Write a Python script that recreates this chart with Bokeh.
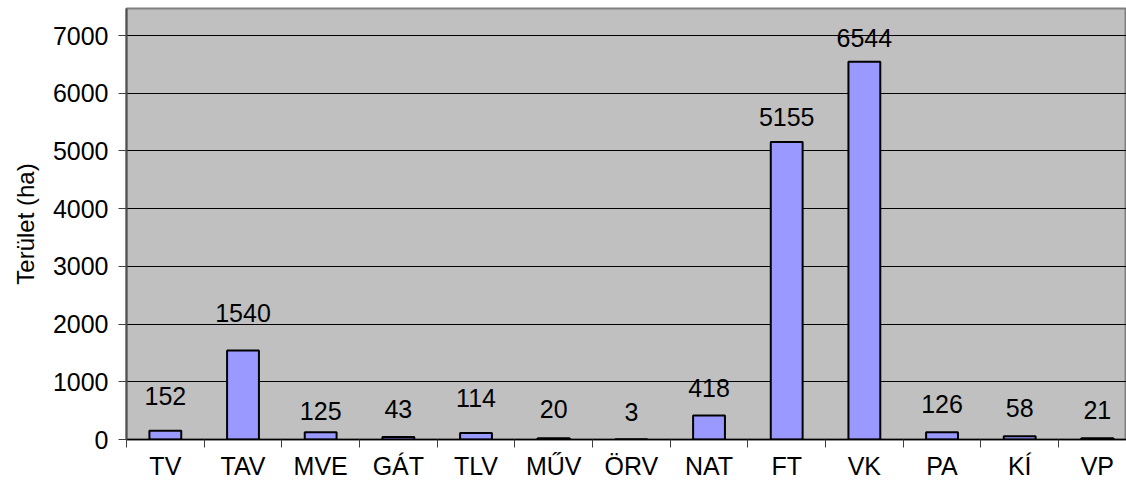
from bokeh.plotting import figure
from bokeh.models import Range1d, FixedTicker, ColumnDataSource
from bokeh.embed import file_html
from bokeh.resources import INLINE
from bokeh.core.properties import value

categories = ["TV", "TAV", "MVE", "GÁT", "TLV", "MŰV", "ÖRV", "NAT", "FT", "VK", "PA", "KÍ", "VP"]
areas = [152, 1540, 125, 43, 114, 20, 3, 418, 5155, 6544, 126, 58, 21]
y_ticks = [0, 1000, 2000, 3000, 4000, 5000, 6000, 7000]
y_title = "Terület (ha)"

# label pixel offsets above the bar top (layout only)
label_dy = [-35, -38, -21, -28, -35, -29, -27, -27, -25, -24, -28, -28, -28]

FONT = "Liberation Sans"

xs = [i + 0.5 for i in range(len(categories))]
src = ColumnDataSource(dict(x=xs, top=areas, label=[str(v) for v in areas], dy=label_dy))

p = figure(width=1126, height=490, output_backend="svg", toolbar_location=None,
           x_range=Range1d(0, 12.875), y_range=Range1d(0, 7468))
p.min_border_left = 126
p.min_border_right = 0
p.min_border_top = 8
p.min_border_bottom = 51
p.background_fill_color = "#C0C0C0"
p.border_fill_color = "white"
p.outline_line_color = "#808080"
p.outline_line_width = 2

p.vbar(x="x", top="top", width=0.41, bottom=0, source=src,
       fill_color="#9999FF", line_color="black", line_width=2)

p.text(x="x", y="top", text="label", y_offset="dy", source=src,
       text_align="center", text_baseline="middle",
       text_font=value(FONT), text_font_size="25px", text_color="black")

# grid
p.xgrid.visible = False
p.ygrid.ticker = FixedTicker(ticks=y_ticks)
p.ygrid.grid_line_color = "black"
p.ygrid.grid_line_width = 1

# x axis
xa = p.xaxis[0]
xa.ticker = FixedTicker(ticks=xs, minor_ticks=[float(i) for i in range(len(categories) + 1)])
xa.major_label_overrides = {x: c for x, c in zip(xs, categories)}
xa.major_tick_line_color = None
xa.major_tick_out = 8
xa.major_tick_in = 0
xa.minor_tick_out = 8
xa.minor_tick_in = 0
xa.minor_tick_line_color = "#404040"
xa.minor_tick_line_width = 1
xa.axis_line_color = "black"
xa.axis_line_width = 1.5
xa.major_label_text_font = FONT
xa.major_label_text_font_size = "25px"
xa.major_label_text_color = "black"
xa.major_label_standoff = 4

# y axis
ya = p.yaxis[0]
ya.ticker = FixedTicker(ticks=y_ticks)
ya.major_tick_out = 8
ya.major_tick_in = 0
ya.major_tick_line_color = "#404040"
ya.minor_tick_line_color = None
ya.axis_line_color = "#505050"
ya.axis_line_width = 2
ya.major_label_text_font = FONT
ya.major_label_text_font_size = "25px"
ya.major_label_text_color = "black"
ya.major_label_standoff = 10
ya.axis_label = y_title
ya.axis_label_text_font = FONT
ya.axis_label_text_font_size = "24px"
ya.axis_label_text_font_style = "normal"
ya.axis_label_text_color = "black"
ya.axis_label_standoff = 11

open("out.html", "w").write(file_html(p, INLINE))
